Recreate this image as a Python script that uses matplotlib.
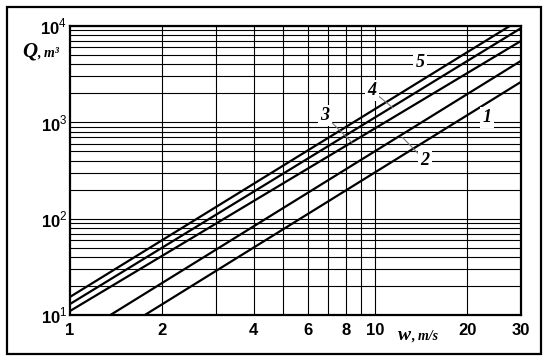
import matplotlib
matplotlib.use("Agg")
import matplotlib.pyplot as plt
from matplotlib.patches import Rectangle
from matplotlib.ticker import FixedLocator, NullFormatter

plt.rcParams['font.family'] = ['Liberation Sans', 'DejaVu Sans']
plt.rcParams['mathtext.fontset'] = 'custom'
plt.rcParams['mathtext.rm'] = 'Liberation Sans'
plt.rcParams['mathtext.bf'] = 'Liberation Sans:bold'

# line end points (w at left/right edge, Q)
w_ends = [1, 30]
q_line1 = [3.3, 2630]
q_line2 = [5.5, 4350]
q_line3 = [11.0, 7000]
q_line4 = [13.0, 9500]
q_line5 = [15.4, 11800]

x_ticks = [1, 2, 4, 6, 8, 10, 20, 30]
x_tick_labels = ['1', '2', '4', '6', '8', '10', '20', '30']
x_grid = [2, 3, 4, 5, 6, 7, 8, 9, 10, 20]
y_ticks = [10, 100, 1000, 10000]
y_tick_labels = [r'$\mathbf{10}^{\mathrm{1}}$', r'$\mathbf{10}^{\mathrm{2}}$',
                 r'$\mathbf{10}^{\mathrm{3}}$', r'$\mathbf{10}^{\mathrm{4}}$']

fig = plt.figure(figsize=(5.5, 3.61), dpi=100)
ax = fig.add_axes([70 / 550, 46 / 361, 451 / 550, 289 / 361])
ax.set_xscale('log')
ax.set_yscale('log')
ax.set_xlim(1, 30)
ax.set_ylim(10, 10000)

# grid
ax.xaxis.set_major_locator(FixedLocator(x_ticks))
ax.xaxis.set_minor_locator(FixedLocator(x_grid))
ax.xaxis.set_minor_formatter(NullFormatter())
ax.set_xticklabels(x_tick_labels)
ax.yaxis.set_major_locator(FixedLocator(y_ticks))
y_minor = [m * d for d in [10, 100, 1000] for m in range(2, 10)]
ax.yaxis.set_minor_locator(FixedLocator(y_minor))
ax.yaxis.set_minor_formatter(NullFormatter())
ax.set_yticklabels(y_tick_labels)
ax.grid(False)
for v in x_grid:
    ax.axvline(v, color='black', lw=0.8, zorder=1)
for v in y_minor + y_ticks:
    ax.axhline(v, color='black', lw=0.8, zorder=1)

ax.tick_params(which='both', length=0)
ax.tick_params(axis='x', pad=6, labelsize=12)
ax.tick_params(axis='y', pad=2, labelsize=12)
for lab in ax.get_xticklabels():
    lab.set_fontweight('bold')
for s in ax.spines.values():
    s.set_linewidth(1.6)

for q in [q_line1, q_line2, q_line3, q_line4, q_line5]:
    ax.plot(w_ends, q, color='black', lw=1.6, zorder=3)

lab_font = dict(family='Liberation Serif', style='italic', weight='bold', fontsize=13)
box = dict(facecolor='white', edgecolor='none', pad=1.5)
lead = dict(arrowstyle='-', color='#777777', lw=0.8, shrinkA=0, shrinkB=0)
ax.text(14.0, 4140, '5', ha='center', va='center', bbox=box, zorder=4, **lab_font)
ax.text(23.2, 1117, '1', ha='center', va='center', bbox=box, zorder=4, **lab_font)
ax.annotate('4', xy=(11.4, 1420), xytext=(9.76, 2125), ha='center', va='center',
            bbox=box, arrowprops=lead, zorder=4, **lab_font)
ax.annotate('3', xy=(8.39, 616), xytext=(6.84, 1170), ha='center', va='center',
            bbox=box, arrowprops=lead, zorder=4, **lab_font)
ax.annotate('2', xy=(12.3, 693), xytext=(14.55, 401), ha='center', va='center',
            bbox=box, arrowprops=lead, zorder=4, **lab_font)

# axis titles
serif = dict(family='Liberation Serif', style='italic', weight='bold')
fig.text(22 / 550, 1 - 57 / 361, 'Q', fontsize=15, va='baseline', **serif)
fig.text(37 / 550, 1 - 57 / 361, ', m³', fontsize=10, va='baseline', **serif)
fig.text(398 / 550, 1 - 340 / 361, 'w', fontsize=14, va='baseline', **serif)
fig.text(411 / 550, 1 - 340 / 361, ', m/s', fontsize=10, va='baseline', **serif)

# outer frame
fig.patches.append(Rectangle((7 / 550, 7 / 361), 534 / 550, 347 / 361,
                             transform=fig.transFigure, fill=False,
                             edgecolor='black', lw=1.6))

fig.savefig('out.png', dpi=100)
